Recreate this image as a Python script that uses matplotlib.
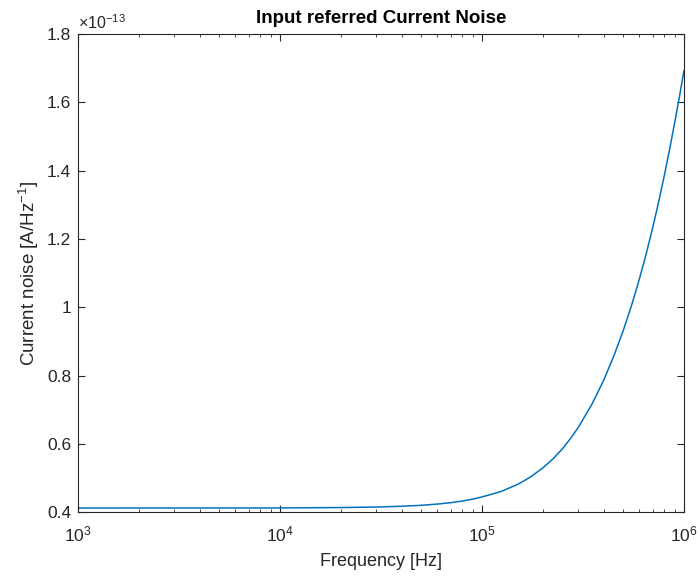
import numpy as np
import matplotlib
matplotlib.use("Agg")
import matplotlib.pyplot as plt
from matplotlib.ticker import FuncFormatter, FixedLocator, LogLocator

# values (frequency in Hz, noise in units of 1e-13 A/Hz^-1)
freq = [1e3, 1e4, 2e4, 3e4, 4e4, 5e4, 6e4, 7e4, 8e4, 9e4, 1e5, 1.12e5, 1.25e5,
        1.37e5, 1.5e5, 1.62e5, 1.75e5, 2e5, 2.25e5, 2.5e5, 2.75e5, 3e5,
        3.5e5, 4e5, 4.5e5, 5e5, 5.5e5, 6e5, 6.5e5, 7e5, 7.5e5, 8e5, 8.5e5,
        9e5, 9.5e5, 1e6]
noise = [0.4130, 0.4133, 0.4144, 0.4159, 0.4182, 0.4209, 0.4245, 0.4286,
         0.4334, 0.4390, 0.4455, 0.4535, 0.462, 0.472, 0.482, 0.493, 0.505,
         0.530, 0.557, 0.586, 0.617, 0.649, 0.716, 0.786, 0.858, 0.931,
         1.005, 1.080, 1.156, 1.232, 1.309, 1.386, 1.463, 1.540, 1.616, 1.692]
noise = [v * 1e-13 for v in noise]

ytick_vals = [0.4, 0.6, 0.8, 1.0, 1.2, 1.4, 1.6, 1.8]

plt.rcParams['font.family'] = ['Liberation Sans', 'DejaVu Sans']
plt.rcParams['mathtext.fontset'] = 'custom'
plt.rcParams['mathtext.rm'] = 'Liberation Sans'
plt.rcParams['mathtext.it'] = 'Liberation Sans'

fig = plt.figure(figsize=(7, 5.79), dpi=100)
ax = fig.add_axes([0.1114, 0.1149, 0.8656, 0.8264])

ax.plot(freq, noise, color='#0072BD', linewidth=1.1)

ax.set_xscale('log')
ax.set_xlim(1e3, 1e6)
ax.set_ylim(0.4e-13, 1.8e-13)

ax.yaxis.set_major_locator(FixedLocator([v * 1e-13 for v in ytick_vals]))
ax.yaxis.set_major_formatter(FuncFormatter(lambda v, p: ('%g' % round(v / 1e-13, 2))))
ax.xaxis.set_major_locator(LogLocator(base=10))
ax.xaxis.set_minor_locator(LogLocator(base=10, subs=np.arange(2, 10)))

gray = '#262626'
for s in ax.spines.values():
    s.set_color(gray)
    s.set_linewidth(0.8)
ax.tick_params(which='both', direction='in', top=True, right=True, colors=gray,
               labelsize=12.5)
ax.tick_params(which='major', length=5)
ax.tick_params(which='minor', length=2.5)
ax.tick_params(axis='x', pad=9)
ax.tick_params(axis='y', pad=5)

ax.text(0.0, 1.005, r'$\times10^{-13}$', transform=ax.transAxes, fontsize=11.5,
        color=gray, ha='left', va='bottom')

ax.set_title('Input referred Current Noise', fontsize=13.5, fontweight='bold', pad=8)
ax.set_xlabel('Frequency [Hz]', fontsize=13, color=gray, labelpad=6)
ax.set_ylabel('Current noise [A/Hz$^{-1}$]', fontsize=13.5, color=gray, labelpad=4)

fig.savefig('out.png', dpi=100)
